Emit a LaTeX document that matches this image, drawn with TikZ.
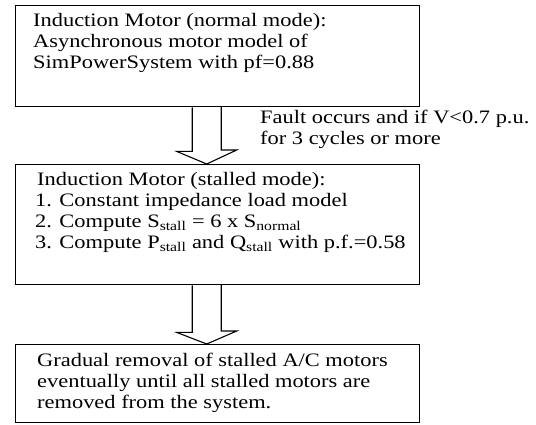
\documentclass[tikz,border=0pt]{standalone}
\usepackage{fontspec}
\setmainfont[FakeStretch=1.18]{Liberation Serif}
\begin{document}
\begin{tikzpicture}[x=1pt,y=-1pt,
  box/.style={draw, line width=1.4pt, inner sep=0pt, anchor=north west},
  txt/.style={anchor=base west, inner sep=0pt, font=\fontsize{19}{21}\selectfont},
  blockarrow/.style={draw, line width=1.1pt, line join=miter}]
\useasboundingbox (0,0) rectangle (536,424);

% the three stages
\node[box, minimum width=404pt, minimum height=101pt] (b1) at (15,5) {};
\node[box, minimum width=404pt, minimum height=120pt] (b2) at (15,164) {};
\node[box, minimum width=404pt, minimum height=78pt]  (b3) at (15,344) {};

% normal-mode text
\node[txt] (t11) at (33,26) {Induction Motor (normal mode):};
\node[txt] (t12) at (33,47) {Asynchronous motor model of};
\node[txt] (t13) at (33,68) {SimPowerSystem with pf=0.88};

% transition condition
\node[txt] (c1) at (260,123) {Fault occurs and if V<0.7 p.u.};
\node[txt] (c2) at (260,144) {for 3 cycles or more};

% stalled-mode text
\node[txt] (t21) at (37,185) {Induction Motor (stalled mode):};
\node[txt] (t22) at (35,206) {1. Constant impedance load model};
\node[txt] (t23) at (35,227) {2. Compute S\textsubscript{stall} = 6 x S\textsubscript{normal}};
\node[txt] (t24) at (35,248) {3. Compute P\textsubscript{stall} and Q\textsubscript{stall} with p.f.=0.58};

% removal text
\node[txt] (t31) at (37,366) {Gradual removal of stalled A/C motors};
\node[txt] (t32) at (37,387) {eventually until all stalled motors are};
\node[txt] (t33) at (37,408) {removed from the system.};

% hollow block arrows between the stages
\coordinate (s1) at ([xshift=-11pt]b1.south);
\coordinate (e1) at ([xshift=-11pt]b2.north);
\coordinate (s2) at ([xshift=-11pt]b2.south);
\coordinate (e2) at ([xshift=-11pt]b3.north);
\draw[blockarrow] (s1) ++(-14.5,0) -- ++(0,44) -- ++(-15.5,0) -- (e1)
  -- ++(30,-14) -- ++(-15.5,0) -- ++(0,-44);
\draw[blockarrow] (s2) ++(-14.5,0) -- ++(0,47) -- ++(-15.5,0) -- (e2)
  -- ++(30,-13) -- ++(-15.5,0) -- ++(0,-47);
\end{tikzpicture}
\end{document}
